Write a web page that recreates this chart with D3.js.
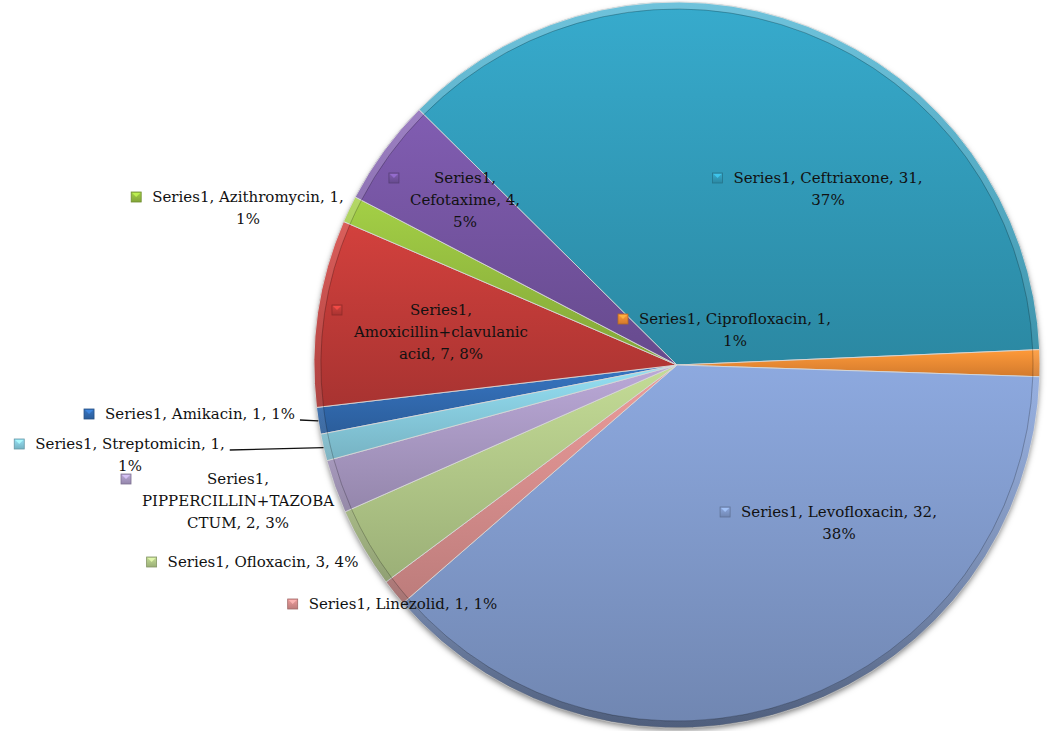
<!DOCTYPE html>
<html>
<head>
<meta charset="utf-8">
<script src="https://cdn.jsdelivr.net/npm/d3@7"></script>
<style>
  body { margin: 0; background: #fff; }
  text { font-family: "DejaVu Serif", serif; font-size: 15px; fill: #111; }
</style>
</head>
<body>
<svg id="chart" width="1059" height="731"></svg>
<script>
const seriesName = "Series1";
const categories = [
  "Amikacin", "Amoxicillin+clavulanic acid", "Azithromycin", "Cefotaxime",
  "Ceftriaxone", "Ciprofloxacin", "Levofloxacin", "Linezolid", "Ofloxacin",
  "PIPPERCILLIN+TAZOBACTUM", "Streptomicin"
];
const values = [1, 7, 1, 4, 31, 1, 32, 1, 3, 2, 1];
const pctLabels = ["1%", "8%", "1%", "5%", "37%", "1%", "38%", "1%", "4%", "3%", "1%"];
const colors = [
  "#3169ae", "#be3a37", "#93bb3f", "#7454a0", "#319ab8", "#ee8a33",
  "#7f98c8", "#d58c8b", "#b0c687", "#a898c2", "#86cadc"
];

// where Excel put each data label (centre of text block, middle of first line)
const labelLayout = [
  { x: 200, y: 414, wrap: 99, leader: true },
  { x: 441, y: 310, wrap: 22 },
  { x: 248, y: 197, wrap: 25 },
  { x: 465, y: 178, wrap: 14 },
  { x: 828, y: 178, wrap: 25 },
  { x: 735, y: 319, wrap: 26 },
  { x: 839, y: 512, wrap: 26 },
  { x: 403, y: 604, wrap: 99 },
  { x: 263, y: 562, wrap: 99 },
  { x: 238, y: 479, wrap: 19 },
  { x: 130, y: 444, wrap: 25, leader: true }
];

const cx = 677, cy = 365, R = 363;
const startAngle = -101 * Math.PI / 180;
const lineHeight = 22;

const svg = d3.select("#chart");
const defs = svg.append("defs");

const data = categories.map((c, i) => ({ name: c, value: values[i], pct: pctLabels[i], color: colors[i], i }));

const pie = d3.pie()
  .value(d => d.value)
  .sort(null)
  .startAngle(startAngle)
  .endAngle(startAngle + 2 * Math.PI);

const arcs = pie(data);
const arc = d3.arc().innerRadius(0).outerRadius(R);
const rimArc = d3.arc().innerRadius(R - 7).outerRadius(R);

// shadow under the pie
const shadow = defs.append("filter").attr("id", "shadow")
  .attr("x", "-10%").attr("y", "-10%").attr("width", "120%").attr("height", "120%");
shadow.append("feDropShadow")
  .attr("dx", 0).attr("dy", 3).attr("stdDeviation", 3)
  .attr("flood-color", "#000").attr("flood-opacity", 0.55);

// per-slice vertical gradients
data.forEach(d => {
  const lg = defs.append("linearGradient").attr("id", "g" + d.i)
    .attr("x1", 0).attr("y1", 0).attr("x2", 0).attr("y2", 1);
  lg.append("stop").attr("offset", "0%").attr("stop-color", d3.rgb(d.color).brighter(0.3));
  lg.append("stop").attr("offset", "100%").attr("stop-color", d3.rgb(d.color).darker(0.35));
});

// bevel lighting on the rim: light from top, dark at bottom (group coords)
const rimGrad = defs.append("linearGradient").attr("id", "rim")
  .attr("gradientUnits", "userSpaceOnUse")
  .attr("x1", 0).attr("y1", -R).attr("x2", 0).attr("y2", R);
rimGrad.append("stop").attr("offset", "0%").attr("stop-color", "#fff").attr("stop-opacity", 0.28);
rimGrad.append("stop").attr("offset", "50%").attr("stop-color", "#fff").attr("stop-opacity", 0.08);
rimGrad.append("stop").attr("offset", "100%").attr("stop-color", "#000").attr("stop-opacity", 0.3);

const g = svg.append("g").attr("transform", `translate(${cx},${cy})`);

g.append("circle").attr("r", R - 1).attr("fill", "#888").attr("filter", "url(#shadow)");

g.selectAll("path.slice")
  .data(arcs)
  .join("path")
  .attr("class", "slice")
  .attr("d", arc)
  .attr("fill", d => `url(#g${d.data.i})`)
  .attr("stroke", "rgba(215,215,215,0.9)")
  .attr("stroke-width", 1)
  .attr("stroke-linejoin", "round");

g.selectAll("path.rim")
  .data(arcs)
  .join("path")
  .attr("class", "rim")
  .attr("d", rimArc)
  .attr("fill", "url(#rim)");

// inner edge of the bevel
g.selectAll("path.rimline")
  .data(arcs)
  .join("path")
  .attr("class", "rimline")
  .attr("d", d3.arc().innerRadius(R - 7).outerRadius(R - 7))
  .attr("fill", "none")
  .attr("stroke", "rgba(0,0,0,0.12)")
  .attr("stroke-width", 1);

function wrapChars(str, max) {
  const words = str.split(" ");
  const lines = [];
  let cur = "";
  words.forEach(w => {
    const cand = cur ? cur + " " + w : w;
    if (cand.length <= max) { cur = cand; return; }
    if (cur) lines.push(cur);
    while (w.length > max) { lines.push(w.slice(0, max)); w = w.slice(max); }
    cur = w;
  });
  if (cur) lines.push(cur);
  return lines;
}

const labels = svg.append("g");

arcs.forEach(a => {
  const d = a.data;
  const pos = labelLayout[d.i];
  const full = `${seriesName}, ${d.name}, ${d.value}, ${d.pct}`;
  const lines = wrapChars(full, pos.wrap);

  const t = labels.append("text")
    .attr("text-anchor", "middle");
  lines.forEach((ln, k) => {
    t.append("tspan")
      .attr("x", pos.x)
      .attr("y", pos.y + k * lineHeight)
      .attr("dy", "0.36em")
      .text(ln);
  });

  const bb = t.node().getBBox();
  const firstW = t.select("tspan").node().getComputedTextLength();

  // legend key
  const kx = bb.x - 16, ky = pos.y;
  labels.append("rect")
    .attr("x", kx - 5).attr("y", ky - 5)
    .attr("width", 10).attr("height", 10)
    .attr("fill", `url(#g${d.i})`)
    .attr("stroke", d3.rgb(d.color).darker(0.8))
    .attr("stroke-width", 0.8);
  labels.append("path")
    .attr("d", `M${kx - 4},${ky - 4}L${kx + 4},${ky - 4}L${kx},${ky}Z`)
    .attr("fill", d3.rgb(d.color).brighter(0.8))
    .attr("opacity", 0.8);

  if (pos.leader) {
    const mid = (a.startAngle + a.endAngle) / 2;
    const ex = cx + R * Math.sin(mid), ey = cy - R * Math.cos(mid);
    const sx = pos.x + firstW / 2 + 5, sy = pos.y + 6;
    labels.append("path")
      .attr("d", `M${sx},${sy}L${ex},${ey}`)
      .attr("stroke", "#111")
      .attr("stroke-width", 1.3)
      .attr("fill", "none");
  }
});
</script>
</body>
</html>
